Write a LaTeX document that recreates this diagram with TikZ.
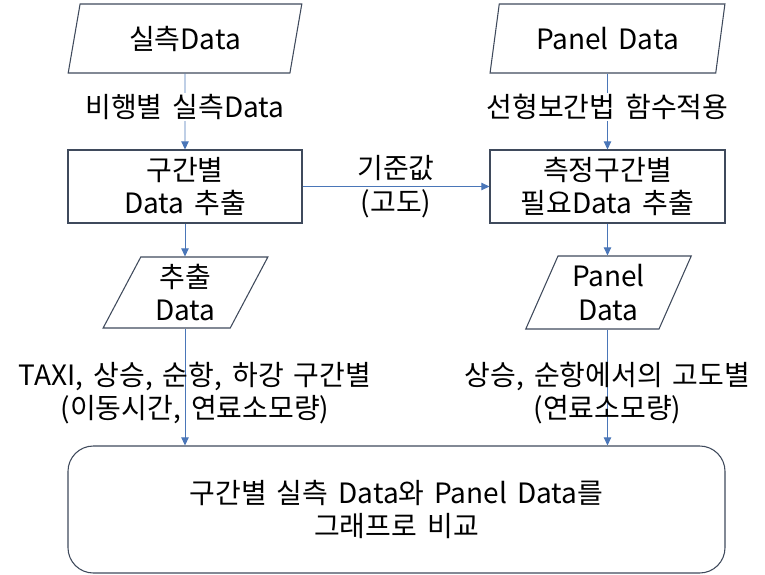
\documentclass[tikz,border=0pt]{standalone}
\usepackage{fontspec}
\setmainfont{Noto Sans CJK KR}[WordSpace=1.6]
\usepackage{tikz}
\usetikzlibrary{shapes.geometric, arrows.meta, positioning}

\definecolor{edgecol}{HTML}{3F4A5C}
\definecolor{arrowcol}{HTML}{4A76B8}

\begin{document}
\begin{tikzpicture}[
    x=0.75pt, y=-0.75pt,
    font=\fontsize{21}{25}\selectfont,
    io/.style={trapezium, trapezium stretches=true, draw=edgecol, line width=0.8pt, align=center, inner sep=0pt},
    box/.style={rectangle, draw=edgecol, line width=0.8pt, align=center, inner sep=0pt},
    arrow/.style={-{Triangle[length=6pt, width=5.5pt]}, draw=arrowcol, line width=0.7pt},
    lbl/.style={align=center, inner sep=1pt}
]
\useasboundingbox (0,0) rectangle (765,575);
% inputs
\node[io, trapezium left angle=76, trapezium right angle=104, minimum width=175.5pt, minimum height=51.75pt] (real) at (185,38.5) {실측Data};
\node[io, trapezium left angle=75, trapezium right angle=105, minimum width=176.25pt, minimum height=51.75pt] (panel) at (607.5,38.5) {Panel Data};
% processing
\node[box, minimum width=175.5pt, minimum height=54.75pt] (sect) at (185,186.5) {구간별\\Data 추출};
\node[box, minimum width=176.25pt, minimum height=54.75pt] (need) at (607.5,186.5) {측정구간별\\필요Data 추출};
% extracted data
\node[io, trapezium left angle=66, trapezium right angle=114, minimum width=123.75pt, minimum height=53.25pt] (ext) at (185.5,292.5) {추출\\Data};
\node[io, trapezium left angle=67.5, trapezium right angle=112.5, minimum width=125.25pt, minimum height=54.75pt] (pdat) at (608.5,292.5) {Panel\\Data};
% result
\node[box, rounded corners=19pt, minimum width=492.75pt, minimum height=95.25pt] (cmp) at (396.5,509.5) {구간별 실측 Data와 Panel Data를\\그래프로 비교};

\draw[arrow] (real.south) -- node[lbl, fill=white, pos=0.44] {비행별 실측Data} (sect.north);
\draw[arrow] (panel.south -| need.north) -- node[lbl, fill=white, pos=0.44] {선형보간법 함수적용} (need.north);
\draw[arrow] (sect.east) -- node[lbl] {기준값\\(고도)} (need.west);
\draw[arrow] (sect.south) -- (ext.north -| sect.south);
\draw[arrow] (need.south) -- (pdat.north -| need.south);
\draw[arrow] (ext.south -| sect.south) -- node[lbl, pos=0.55, xshift=7.5pt] {TAXI, 상승, 순항, 하강 구간별\\(이동시간, 연료소모량)} (cmp.north -| sect.south);
\draw[arrow] (pdat.south -| need.south) -- node[lbl, pos=0.55] {상승, 순항에서의 고도별\\(연료소모량)} (cmp.north -| need.south);
\end{tikzpicture}
\end{document}
